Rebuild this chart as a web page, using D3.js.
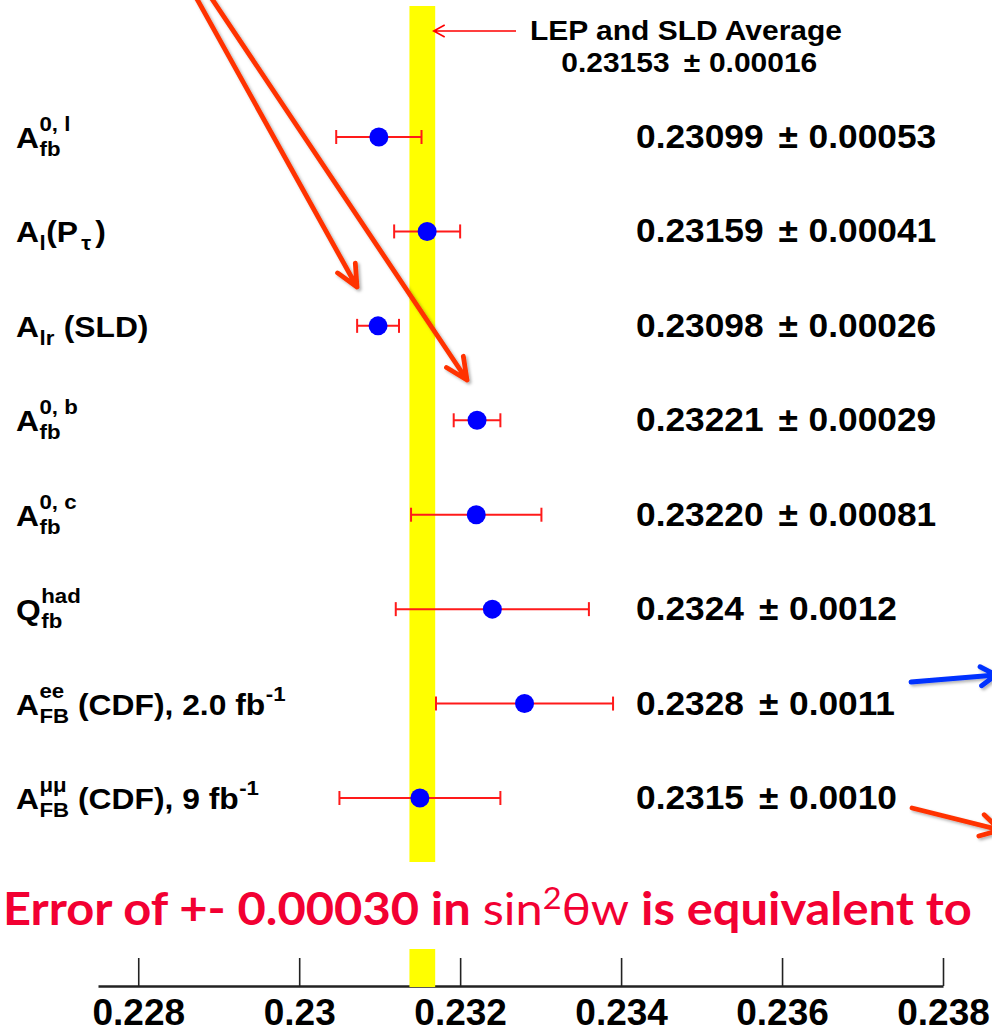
<!DOCTYPE html>
<html>
<head>
<meta charset="utf-8">
<script src="https://cdn.jsdelivr.net/npm/d3@7"></script>
<style>
  html, body { margin: 0; padding: 0; background: #fff; overflow: hidden; }
  svg { display: block; }
  text { white-space: pre; }
</style>
</head>
<body>
<svg id="chart" width="992" height="1035"></svg>
<script>
// sin^2(theta_eff) determinations with the combined LEP/SLD average band
const categories = ["Afb0l", "AlPtau", "AlrSLD", "Afb0b", "Afb0c", "Qfbhad", "AFBeeCDF", "AFBmumuCDF"];
const values = [0.23099, 0.23159, 0.23098, 0.23221, 0.23220, 0.2324, 0.2328, 0.2315];
const errors = [0.00053, 0.00041, 0.00026, 0.00029, 0.00081, 0.0012, 0.0011, 0.0010];
const valueLabels = ["0.23099", "0.23159", "0.23098", "0.23221", "0.23220", "0.2324", "0.2328", "0.2315"];
const errorLabels = ["0.00053", "0.00041", "0.00026", "0.00029", "0.00081", "0.0012", "0.0011", "0.0010"];
const average = 0.23153;
const averageErr = 0.00016;
const averageLabel = "0.23153";
const averageErrLabel = "0.00016";
const tickValues = [0.228, 0.23, 0.232, 0.234, 0.236, 0.238];
const tickLabels = ["0.228", "0.23", "0.232", "0.234", "0.236", "0.238"];

// Label pieces: m = main text, sub / sup = single index, ss = stacked [sup, sub]
const labelParts = [
  [["m", "A"], ["ss", "0, l", "fb"]],
  [["m", "A"], ["sub", "l"], ["m", "(P"], ["sub", "\u03C4", 3, 4], ["m", ")"]],
  [["m", "A"], ["sub", "lr"], ["m", " (SLD)"]],
  [["m", "A"], ["ss", "0, b", "fb"]],
  [["m", "A"], ["ss", "0, c", "fb"]],
  [["m", "Q"], ["ss", "had", "fb"]],
  [["m", "A"], ["ss", "ee", "FB"], ["m", " (CDF), 2.0 fb"], ["sup", "-1"]],
  [["m", "A"], ["ss", "\u03BC\u03BC", "FB"], ["m", " (CDF), 9 fb"], ["sup", "-1"]]
];

// Hand-drawn pointer arrows laid over the figure (pixel space)
const pointerArrows = [
  { from: [192, -10], to: [357, 287], color: "#ff3300", head: 24, angle: 25 },
  { from: [206, -10], to: [467, 380], color: "#ff3300", head: 24, angle: 25 },
  { from: [911, 682], to: [996, 675], color: "#0030ff", head: 18, angle: 32 },
  { from: [912, 808], to: [1000, 830], color: "#ff3300", head: 22, angle: 30 }
];

const FONT = "'Liberation Sans', Arial, Helvetica, sans-serif";
const svg = d3.select("#chart");

const x = d3.scaleLinear().domain([0.2275, 0.238]).range([98, 943]);
const y = d3.scalePoint().domain(categories).range([137, 798]);
const axisY = 986;
const stretch = 1.07;

// drop shadow used by the pointer arrows
const defs = svg.append("defs");
const sh = defs.append("filter").attr("id", "shadow")
  .attr("filterUnits", "userSpaceOnUse")
  .attr("x", 0).attr("y", 0).attr("width", 992).attr("height", 1035);
sh.append("feDropShadow").attr("dx", 2).attr("dy", 2).attr("stdDeviation", 1.5)
  .attr("flood-color", "#000").attr("flood-opacity", 0.3);

svg.append("rect").attr("width", 992).attr("height", 1035).attr("fill", "#fff");

// x axis: ticks point up, labels below
const axis = d3.axisBottom(x)
  .tickValues(tickValues)
  .tickFormat((d, i) => tickLabels[i])
  .tickSizeInner(-28)
  .tickSizeOuter(0)
  .tickPadding(13);
const gAxis = svg.append("g").attr("transform", `translate(0,${axisY})`).call(axis);
gAxis.select(".domain").attr("stroke", "#222").attr("stroke-width", 2.4);
gAxis.selectAll(".tick line").attr("stroke", "#222").attr("stroke-width", 1.6);
gAxis.selectAll(".tick text")
  .attr("fill", "#000")
  .style("font-family", FONT).style("font-weight", "bold").style("font-size", "37px");

// average band
svg.append("rect")
  .attr("x", x(average - averageErr))
  .attr("width", x(average + averageErr) - x(average - averageErr))
  .attr("y", 6)
  .attr("height", axisY + 1 - 6)
  .attr("fill", "#ffff00");

// error bars
const gErr = svg.append("g").attr("stroke", "#ff1a1a").attr("stroke-width", 2).attr("fill", "none");
categories.forEach((c, i) => {
  const yy = y(c), lo = x(values[i] - errors[i]), hi = x(values[i] + errors[i]);
  gErr.append("line").attr("x1", lo).attr("x2", hi).attr("y1", yy).attr("y2", yy);
  gErr.append("line").attr("x1", lo).attr("x2", lo).attr("y1", yy - 7).attr("y2", yy + 7);
  gErr.append("line").attr("x1", hi).attr("x2", hi).attr("y1", yy - 7).attr("y2", yy + 7);
});

// central values
svg.append("g").selectAll("circle")
  .data(categories)
  .join("circle")
  .attr("cx", (c, i) => x(values[i]))
  .attr("cy", c => y(c))
  .attr("r", 9.5)
  .attr("fill", "#0000ff");

// value ± error column
categories.forEach((c, i) => {
  const t = svg.append("text")
    .attr("transform", `translate(636,${y(c) + 11}) scale(${stretch},1)`)
    .style("font-family", FONT).style("font-weight", "bold").style("font-size", "33px")
    .attr("fill", "#000");
  t.append("tspan").text(valueLabels[i]);
  t.append("tspan").attr("dx", 14).text("\u00B1");
  t.append("tspan").attr("dx", 10).text(errorLabels[i]);
});

// measurement labels
function addText(g, str, xx, yy, size) {
  const t = g.append("text").attr("x", xx).attr("y", yy)
    .style("font-family", FONT).style("font-weight", "bold").style("font-size", size + "px")
    .attr("fill", "#000").text(str);
  return t.node().getComputedTextLength();
}
categories.forEach((c, i) => {
  const g = svg.append("g").attr("transform", `translate(16,${y(c)}) scale(1.06,1)`);
  let cx = 0;
  const base = 11;
  labelParts[i].forEach(p => {
    const kind = p[0];
    if (kind === "m") {
      cx += addText(g, p[1], cx, base, 30);
    } else if (kind === "sub") {
      cx += (p[2] || 0.5);
      cx += addText(g, p[1], cx, base + 8, 21);
      cx += (p[3] || 0.5);
    } else if (kind === "sup") {
      cx += addText(g, p[1], cx + 0.5, base - 14, 21) + 0.5;
    } else if (kind === "ss") {
      const w1 = addText(g, p[1], cx + 0.5, base - 17, 21);
      const w2 = addText(g, p[2], cx + 0.5, base + 8, 21);
      cx += Math.max(w1, w2) + 0.5;
    }
  });
});

// average annotation
const gAvg = svg.append("g").attr("transform", `translate(686,0) scale(1.09,1)`)
  .style("font-family", FONT).style("font-weight", "bold").attr("fill", "#000");
gAvg.append("text").attr("x", 0).attr("y", 40).attr("text-anchor", "middle")
  .style("font-size", "27.5px").text("LEP and SLD Average");
const avgT = gAvg.append("text").attr("x", 3).attr("y", 72).attr("text-anchor", "middle")
  .style("font-size", "27.5px");
avgT.append("tspan").text(averageLabel);
avgT.append("tspan").attr("dx", 13).text("\u00B1");
avgT.append("tspan").attr("dx", 8).text(averageErrLabel);

const tipX = x(average + averageErr) - 1.5;
svg.append("path")
  .attr("d", `M${tipX},31H516M${tipX + 11},25L${tipX},31L${tipX + 11},37`)
  .attr("fill", "none").attr("stroke", "#ff0000").attr("stroke-width", 1.6);

// caption strip across the band
svg.append("rect").attr("x", 0).attr("y", 862).attr("width", 992).attr("height", 87).attr("fill", "#fff");
const cap = svg.append("text")
  .attr("x", 0).attr("y", 925)
  .style("font-family", "Lato, 'Open Sans', sans-serif").style("font-size", "45px")
  .attr("fill", "#f20032");
cap.append("tspan").style("font-weight", "bold").text("Error of +- 0.00030 in ");
cap.append("tspan").style("font-weight", "normal").text("sin");
cap.append("tspan").style("font-weight", "normal").style("font-size", "30px").attr("dy", -16).text("2");
cap.append("tspan").style("font-weight", "normal").attr("dy", 16).text("\u03B8w");
cap.append("tspan").style("font-weight", "bold").text(" is equivalent to");
const capLen = cap.node().getComputedTextLength();
cap.attr("transform", `translate(3,0) scale(${969 / capLen},1)`);

// pointer arrows
const gArr = svg.append("g").attr("filter", "url(#shadow)");
pointerArrows.forEach(a => {
  const [x1, y1] = a.from, [x2, y2] = a.to;
  const back = Math.atan2(y1 - y2, x1 - x2);
  const r = a.angle * Math.PI / 180;
  const h1 = [x2 + a.head * Math.cos(back + r), y2 + a.head * Math.sin(back + r)];
  const h2 = [x2 + a.head * Math.cos(back - r), y2 + a.head * Math.sin(back - r)];
  gArr.append("path")
    .attr("d", `M${x1},${y1}L${x2},${y2}M${h1[0]},${h1[1]}L${x2},${y2}L${h2[0]},${h2[1]}`)
    .attr("fill", "none").attr("stroke", a.color).attr("stroke-width", 4.8)
    .attr("stroke-linecap", "round").attr("stroke-linejoin", "round");
});
</script>
</body>
</html>
